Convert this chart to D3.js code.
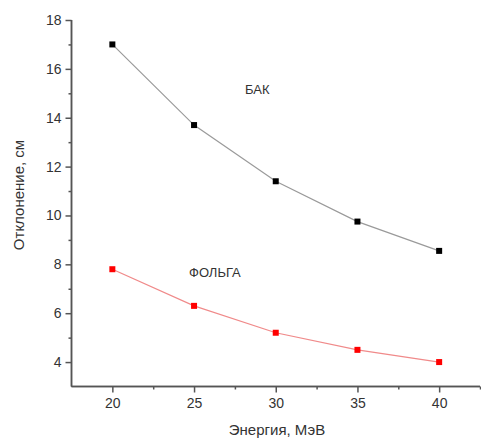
<!DOCTYPE html>
<html>
<head>
<meta charset="utf-8">
<script src="https://cdn.jsdelivr.net/npm/d3@7"></script>
<style>
  body { margin: 0; background: #fff; }
  svg text { font-family: "Liberation Sans", Arial, sans-serif; fill: #333; }
</style>
</head>
<body>
<svg id="chart" width="481" height="439"></svg>
<script>
const energy = [20, 25, 30, 35, 40]
const bak = [17.0, 13.7, 11.4, 9.75, 8.55]
const folga = [7.8, 6.3, 5.2, 4.5, 4.0]
const xTicks = [20, 25, 30, 35, 40]
const yTicks = [4, 6, 8, 10, 12, 14, 16, 18]

const svg = d3.select('#chart')
const mLeft = 71.5, mRight = 480, mTop = 20, mBottom = 386.5

const x = d3.scaleLinear().domain([17.5, 42.5]).range([mLeft, mRight])
const y = d3.scaleLinear().domain([3, 18]).range([mBottom, mTop])

const axisColor = '#555'

// x axis
const xAxis = svg.append('g').attr('transform', `translate(0,${mBottom})`)
xAxis.call(d3.axisBottom(x).tickValues([22.5, 27.5, 32.5, 37.5, 42.5]).tickSize(3).tickFormat(''))
xAxis.append('g').call(d3.axisBottom(x).tickValues(xTicks).tickSize(6).tickPadding(6).tickFormat(d3.format('d')))
xAxis.selectAll('.tick text').attr('font-size', 14).attr('fill', '#333')
xAxis.selectAll('line, path').attr('stroke', axisColor).attr('stroke-width', 1.5)
xAxis.selectAll('.domain').attr('d', `M${mLeft},0H${mRight}`)

// y axis
const yAxis = svg.append('g').attr('transform', `translate(${mLeft},0)`)
yAxis.call(d3.axisLeft(y).tickValues([5, 7, 9, 11, 13, 15, 17]).tickSize(3).tickFormat(''))
yAxis.append('g').call(d3.axisLeft(y).tickValues(yTicks).tickSize(6).tickPadding(4).tickFormat(d3.format('d')))
yAxis.selectAll('.tick text').attr('font-size', 14).attr('fill', '#333')
yAxis.selectAll('line, path').attr('stroke', axisColor).attr('stroke-width', 1.5)
yAxis.selectAll('.domain').attr('d', `M0,${mTop}V${mBottom}`)

const line = d3.line().x(d => x(d[0])).y(d => y(d[1]))

function drawSeries(vals, lineColor, markColor) {
  const pts = energy.map((e, i) => [e, vals[i]])
  svg.append('path').datum(pts).attr('d', line)
    .attr('fill', 'none').attr('stroke', lineColor).attr('stroke-width', 1.2)
  svg.append('g').selectAll('rect').data(pts).join('rect')
    .attr('x', d => x(d[0]) - 3).attr('y', d => y(d[1]) - 3)
    .attr('width', 6).attr('height', 6).attr('fill', markColor)
}

drawSeries(bak, '#9a9a9a', '#000')
drawSeries(folga, '#f08a8a', '#ff0000')

svg.append('text').attr('x', 245).attr('y', 94).attr('font-size', 13).text('БАК')
svg.append('text').attr('x', 189).attr('y', 277).attr('font-size', 13).text('ФОЛЬГА')

svg.append('text').attr('x', 277).attr('y', 435).attr('text-anchor', 'middle')
  .attr('font-size', 15).text('Энергия, МэВ')
svg.append('text').attr('transform', 'translate(24,195) rotate(-90)').attr('text-anchor', 'middle')
  .attr('font-size', 15).text('Отклонение, см')
</script>
</body>
</html>
